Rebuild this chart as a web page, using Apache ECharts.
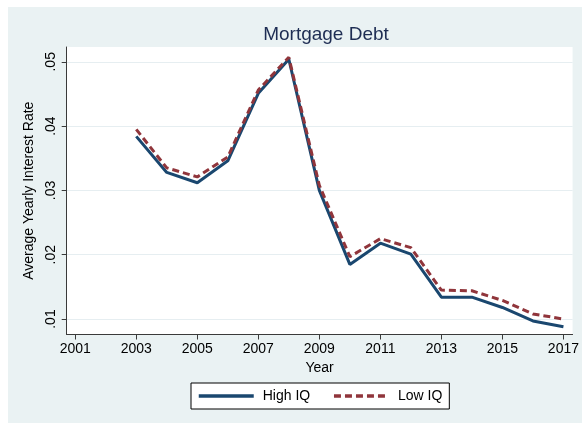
<!DOCTYPE html>
<html>
<head>
<meta charset="utf-8">
<script src="https://cdn.jsdelivr.net/npm/echarts@6/dist/echarts.min.js"></script>
<style>
html,body{margin:0;padding:0;background:#ffffff;}
#chart{width:582px;height:423px;}
</style>
</head>
<body>
<div id="chart"></div>
<script>
const years = [2003, 2004, 2005, 2006, 2007, 2008, 2009, 2010, 2011, 2012, 2013, 2014, 2015, 2016, 2017];
const highIQ = [0.0384, 0.0328, 0.0312, 0.0346, 0.0451, 0.0504, 0.0300, 0.0185, 0.0218, 0.0201, 0.0134, 0.0134, 0.0118, 0.0097, 0.0088];
const lowIQ = [0.0395, 0.0335, 0.0321, 0.0352, 0.0456, 0.0507, 0.0308, 0.0197, 0.0225, 0.0211, 0.0145, 0.0144, 0.0129, 0.0108, 0.0100];
const xTicks = [2001, 2003, 2005, 2007, 2009, 2011, 2013, 2015, 2017];
const yTicks = [0.01, 0.02, 0.03, 0.04, 0.05];

const font = 'Liberation Sans, Arial, sans-serif';
const chart = echarts.init(document.getElementById('chart'), null, {renderer: 'canvas'});
chart.setOption({
  animation: false,
  backgroundColor: '#ffffff',
  graphic: [{
    type: 'rect', z: -100, silent: true,
    shape: {x: 8, y: 7, width: 574, height: 416},
    style: {fill: '#eaf2f3'}
  }],
  title: {
    text: 'Mortgage Debt',
    left: 321, textAlign: 'center', top: 20,
    textStyle: {fontFamily: font, fontSize: 19, fontWeight: 'normal', color: '#1e2d53'}
  },
  legend: {
    left: 191, top: 383,
    padding: [6, 7, 6, 6],
    itemGap: 22,
    itemWidth: 55, itemHeight: 14,
    backgroundColor: '#ffffff',
    borderColor: '#000000', borderWidth: 1,
    itemStyle: {opacity: 0},
    lineStyle: {width: 3.5},
    textStyle: {fontFamily: font, fontSize: 14, color: '#000000', padding: [0, 0, 0, 4]},
    data: ['High IQ', 'Low IQ']
  },
  grid: {
    left: 66.7, top: 47, right: 7, bottom: 88.5,
    show: true, backgroundColor: '#ffffff', borderWidth: 0
  },
  xAxis: {
    type: 'value',
    min: 2000.72, max: 2017.3,
    name: 'Year', nameLocation: 'middle', nameGap: 26,
    nameTextStyle: {fontFamily: font, fontSize: 14, color: '#000000'},
    axisLine: {show: true, onZero: false, lineStyle: {color: '#3a3a3a', width: 1}},
    axisTick: {show: true, length: 5, lineStyle: {color: '#3a3a3a'}, customValues: xTicks},
    axisLabel: {fontFamily: font, fontSize: 14, color: '#000000', margin: 8, customValues: xTicks,
      formatter: v => String(Math.round(v))},
    splitLine: {show: false}
  },
  yAxis: {
    type: 'value',
    min: 0.0076, max: 0.0523,
    name: 'Average Yearly Interest Rate', nameLocation: 'middle', nameGap: 27,
    nameTextStyle: {fontFamily: font, fontSize: 14, color: '#000000'},
    axisLine: {show: true, onZero: false, lineStyle: {color: '#3a3a3a', width: 1}},
    axisTick: {show: true, length: 5, lineStyle: {color: '#3a3a3a'}, customValues: yTicks},
    axisLabel: {fontFamily: font, fontSize: 14, color: '#000000', margin: 9, rotate: 90, customValues: yTicks,
      formatter: v => v.toFixed(2).replace(/^0/, '')},
    splitLine: {show: true, lineStyle: {color: '#e6eef1', width: 1}}
  },
  series: [
    {
      name: 'High IQ', type: 'line', symbol: 'none',
      data: years.map((y, i) => [y, highIQ[i]]),
      itemStyle: {color: '#1a476f'},
      lineStyle: {color: '#1a476f', width: 3}
    },
    {
      name: 'Low IQ', type: 'line', symbol: 'none',
      data: years.map((y, i) => [y, lowIQ[i]]),
      itemStyle: {color: '#90353b'},
      lineStyle: {color: '#90353b', width: 3, type: [7, 4]}
    }
  ]
});
</script>
</body>
</html>
